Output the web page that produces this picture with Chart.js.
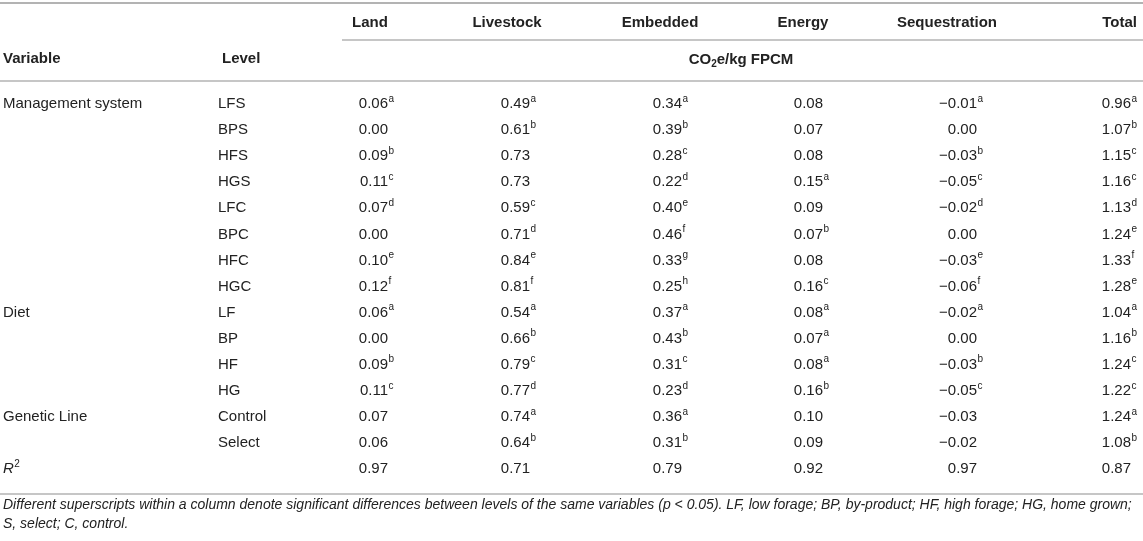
<!DOCTYPE html>
<html>
<head>
<meta charset="utf-8">
<script src="https://cdn.jsdelivr.net/npm/chart.js@4.4.1/dist/chart.umd.min.js"></script>
<style>
    html, body { margin: 0; padding: 0; background: #fff; }
    #wrap { width: 1143px; height: 541px; position: relative; }
</style>
</head>
<body>
<div id="wrap"><canvas id="co2_table"></canvas></div>
<script>
// table content
const columns = ['Land', 'Livestock', 'Embedded', 'Energy', 'Sequestration', 'Total']
const variables = ['Management system', '', '', '', '', '', '', '', 'Diet', '', '', '', 'Genetic Line', '']
const levels = ['LFS', 'BPS', 'HFS', 'HGS', 'LFC', 'BPC', 'HFC', 'HGC', 'LF', 'BP', 'HF', 'HG', 'Control', 'Select']

const land = [0.06, 0.00, 0.09, 0.11, 0.07, 0.00, 0.10, 0.12, 0.06, 0.00, 0.09, 0.11, 0.07, 0.06]
const land_sup = ['a', '', 'b', 'c', 'd', '', 'e', 'f', 'a', '', 'b', 'c', '', '']
const livestock = [0.49, 0.61, 0.73, 0.73, 0.59, 0.71, 0.84, 0.81, 0.54, 0.66, 0.79, 0.77, 0.74, 0.64]
const livestock_sup = ['a', 'b', '', '', 'c', 'd', 'e', 'f', 'a', 'b', 'c', 'd', 'a', 'b']
const embedded = [0.34, 0.39, 0.28, 0.22, 0.40, 0.46, 0.33, 0.25, 0.37, 0.43, 0.31, 0.23, 0.36, 0.31]
const embedded_sup = ['a', 'b', 'c', 'd', 'e', 'f', 'g', 'h', 'a', 'b', 'c', 'd', 'a', 'b']
const energy = [0.08, 0.07, 0.08, 0.15, 0.09, 0.07, 0.08, 0.16, 0.08, 0.07, 0.08, 0.16, 0.10, 0.09]
const energy_sup = ['', '', '', 'a', '', 'b', '', 'c', 'a', 'a', 'a', 'b', '', '']
const sequestration = [-0.01, 0.00, -0.03, -0.05, -0.02, 0.00, -0.03, -0.06, -0.02, 0.00, -0.03, -0.05, -0.03, -0.02]
const sequestration_sup = ['a', '', 'b', 'c', 'd', '', 'e', 'f', 'a', '', 'b', 'c', '', '']
const total = [0.96, 1.07, 1.15, 1.16, 1.13, 1.24, 1.33, 1.28, 1.04, 1.16, 1.24, 1.22, 1.24, 1.08]
const total_sup = ['a', 'b', 'c', 'c', 'd', 'e', 'f', 'e', 'a', 'b', 'c', 'c', 'a', 'b']
const r_squared = [0.97, 0.71, 0.79, 0.92, 0.97, 0.87]

const unit_label = ['CO', '2', 'e/kg FPCM']
const footnote = [
    'Different superscripts within a column denote significant differences between levels of the same variables (p < 0.05). LF, low forage; BP, by-product; HF, high forage; HG, home grown;',
    'S, select; C, control.'
]

// layout (pixels)
const FONT = '"Liberation Sans", Arial, Helvetica, sans-serif'
const TEXT = '#222222'
const RULE = '#b3b3b3'
const col_right = [388, 530, 682, 823, 977, 1131]      // right edge of the numbers
const head_center = [370, 507, 660, 803, 947, null]    // null -> right aligned
const level_x = 218

function fmt(v) {
    let s = Math.abs(v).toFixed(2)
    return v < 0 ? '\u2212' + s : s
}

const series = [land, livestock, embedded, energy, sequestration, total]
const sups = [land_sup, livestock_sup, embedded_sup, energy_sup, sequestration_sup, total_sup]

const datasets = columns.map((name, k) => {
    let pts = series[k].map((v, i) => ({x: col_right[k], y: i, v: v, s: sups[k][i]}))
    pts.push({x: col_right[k], y: levels.length, v: r_squared[k], s: ''})
    return {
        label: name,
        data: pts,
        pointRadius: 0,
        pointHoverRadius: 0,
    }
})

const table_plugin = {
    id: 'table_text',
    afterDatasetsDraw(chart) {
        const ctx = chart.ctx
        const y_scale = chart.scales.y
        ctx.save()
        ctx.fillStyle = TEXT
        ctx.textBaseline = 'middle'

        // rules
        ctx.strokeStyle = RULE
        ctx.lineWidth = 2
        ctx.beginPath(); ctx.moveTo(0, 3); ctx.lineTo(1143, 3); ctx.stroke()
        ctx.lineWidth = 1.5
        ctx.beginPath(); ctx.moveTo(342, 40); ctx.lineTo(1143, 40); ctx.stroke()
        ctx.beginPath(); ctx.moveTo(0, 81); ctx.lineTo(1143, 81); ctx.stroke()
        ctx.beginPath(); ctx.moveTo(0, 494); ctx.lineTo(1143, 494); ctx.stroke()

        // header
        ctx.font = 'bold 15px ' + FONT
        columns.forEach((name, k) => {
            if (head_center[k] === null) {
                ctx.textAlign = 'right'
                ctx.fillText(name, 1137, 23)
            } else {
                ctx.textAlign = 'center'
                ctx.fillText(name, head_center[k], 23)
            }
        })
        ctx.textAlign = 'left'
        ctx.fillText('Variable', 3, 59)
        ctx.fillText('Level', 222, 59)

        // CO2e/kg FPCM with subscript
        let w1 = ctx.measureText(unit_label[0]).width
        let w3 = ctx.measureText(unit_label[2]).width
        ctx.font = 'bold 10px ' + FONT
        let w2 = ctx.measureText(unit_label[1]).width
        let ux = 741 - (w1 + w2 + w3) / 2
        ctx.font = 'bold 15px ' + FONT
        ctx.fillText(unit_label[0], ux, 60)
        ctx.font = 'bold 10px ' + FONT
        ctx.fillText(unit_label[1], ux + w1, 64)
        ctx.font = 'bold 15px ' + FONT
        ctx.fillText(unit_label[2], ux + w1 + w2, 60)

        // row labels
        ctx.font = '15px ' + FONT
        levels.forEach((lv, i) => {
            let y = y_scale.getPixelForValue(i)
            if (variables[i]) ctx.fillText(variables[i], 3, y)
            ctx.fillText(lv, level_x, y)
        })
        let ry = y_scale.getPixelForValue(levels.length)
        ctx.font = 'italic 15px ' + FONT
        ctx.fillText('R', 3, ry)
        let rw = ctx.measureText('R').width
        ctx.font = '10px ' + FONT
        ctx.fillText('2', 3 + rw + 0.5, ry - 5)

        // cells
        chart.data.datasets.forEach((ds, k) => {
            let meta = chart.getDatasetMeta(k)
            meta.data.forEach((el, i) => {
                let p = ds.data[i]
                ctx.font = '15px ' + FONT
                ctx.textAlign = 'right'
                ctx.fillText(fmt(p.v), el.x, el.y)
                if (p.s) {
                    ctx.font = '10px ' + FONT
                    ctx.textAlign = 'left'
                    ctx.fillText(p.s, el.x + 0.5, el.y - 5)
                }
            })
        })

        // footnote
        ctx.textAlign = 'left'
        ctx.font = 'italic 14px ' + FONT
        ctx.fillText(footnote[0], 3, 505)
        ctx.fillText(footnote[1], 3, 524)
        ctx.restore()
    }
}

let table_chart = new Chart(document.querySelector('#co2_table'), {
    type: 'scatter',
    data: {datasets: datasets},
    options: {
        responsive: true,
        maintainAspectRatio: false,
        animation: false,
        events: [],
        layout: {padding: {top: 91, bottom: 59, left: 0, right: 0}},
        plugins: {legend: {display: false}, tooltip: {enabled: false}},
        scales: {
            x: {type: 'linear', min: 0, max: 1143, display: false},
            y: {
                type: 'category',
                labels: levels.concat(['R2']),
                offset: true,
                display: false
            }
        }
    },
    plugins: [table_plugin]
})
</script>
</body>
</html>
